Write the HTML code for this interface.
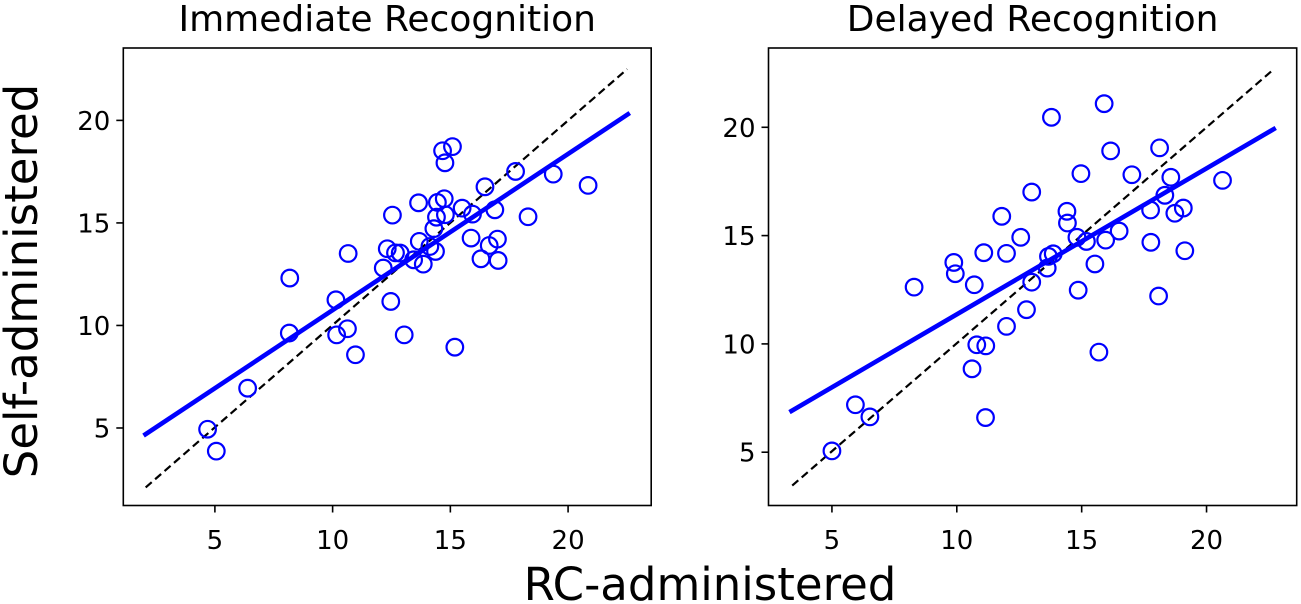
<!DOCTYPE html>
<html><head><meta charset="utf-8"><style>
html,body{margin:0;padding:0;background:#fff;}
svg{display:block;font-family:"DejaVu Sans","Liberation Sans",sans-serif;}
</style></head><body>
<svg id="fig" width="1301" height="604" viewBox="0 0 1301 604" xmlns="http://www.w3.org/2000/svg">
<text x="710" y="600" font-size="45" text-anchor="middle">RC-administered</text>
<text transform="translate(37,281) rotate(-90)" font-size="45" text-anchor="middle">Self-administered</text>
</svg>
<script>
const immX=[4.69,5.06,6.39,8.18,8.16,10.14,10.17,10.66,10.63,10.97,12.54,12.32,12.15,12.47,12.67,12.87,13.04,13.44,13.65,13.68,13.85,14.13,14.37,14.30,14.41,14.45,14.74,14.67,14.77,15.09,14.79,15.19,15.50,15.94,15.88,16.30,16.47,16.65,17.0,16.89,17.03,17.77,18.30,19.37,20.85];
const immY=[4.94,3.87,6.94,12.31,9.63,11.25,9.54,13.51,9.84,8.57,15.38,13.74,12.80,11.17,13.54,13.53,9.54,13.20,15.98,14.10,12.99,13.85,13.61,14.72,15.28,16.0,16.18,18.52,17.93,18.72,15.40,8.94,15.72,15.43,14.26,13.25,16.76,13.90,14.21,15.64,13.17,17.51,15.30,17.38,16.83];
const immFitX=[1.97,22.62];
const immFitY=[4.63,20.36];
const immRefX=[2.06,22.51];
const immRefY=[2.1,22.5];
const delX=[5.0,5.94,6.52,8.29,9.88,9.94,10.70,10.61,10.80,11.16,11.15,11.08,11.80,11.99,11.99,12.56,12.79,13.0,13.0,13.62,13.67,13.86,13.79,14.41,14.43,14.81,14.86,14.97,15.19,15.53,15.69,15.90,15.96,16.16,16.50,17.01,17.76,17.77,18.08,18.12,18.33,18.57,18.73,19.07,19.13,20.64];
const delY=[5.06,7.19,6.63,12.62,13.76,13.24,12.73,8.85,9.96,9.91,6.60,14.21,15.89,14.18,10.81,14.92,11.58,17.01,12.85,13.50,14.04,14.16,20.46,16.12,15.58,14.92,12.48,17.86,14.73,13.69,9.62,21.09,14.79,18.91,15.21,17.81,16.18,14.69,12.21,19.05,16.86,17.69,16.03,16.27,14.30,17.55];
const delFitX=[3.30,22.77];
const delFitY=[6.85,19.97];
const delRefX=[3.41,22.68];
const delRefY=[3.46,22.67];
const xTicks=[5,10,15,20];
const yTicks=[5,10,15,20];

const NS="http://www.w3.org/2000/svg";
const svg=document.getElementById('fig');
function mk(tag,attrs,parent){const e=document.createElementNS(NS,tag);for(const k in attrs)e.setAttribute(k,attrs[k]);(parent||svg).appendChild(e);return e;}

function panel(key,title,box,xd,yd,xs,ys,fx,fy,rx,ry){
  const g=mk('g',{});
  
  
  const X=v=>box.x0+(v-xd[0])/(xd[1]-xd[0])*(box.x1-box.x0);
  const Y=v=>box.y1-(v-yd[0])/(yd[1]-yd[0])*(box.y1-box.y0);
  const t=mk('text',{x:(box.x0+box.x1)/2,y:31,'font-size':36,'text-anchor':'middle'},g);
  t.textContent=title;
  
  
  // identity line
  const rl=mk('line',{x1:X(rx[0]),y1:Y(ry[0]),x2:X(rx[1]),y2:Y(ry[1]),stroke:'#000','stroke-width':2.2,'stroke-dasharray':'8 4.5'},g);
  
  
  // fit line
  const fl=mk('line',{x1:X(fx[0]),y1:Y(fy[0]),x2:X(fx[1]),y2:Y(fy[1]),stroke:'#0000ff','stroke-width':4.6},g);
  
  
  for(let i=0;i<xs.length;i++){
    const c=mk('circle',{cx:X(xs[i]),cy:Y(ys[i]),r:8.3,fill:'none',stroke:'#0000ff','stroke-width':2.2},g);
    
    
  }
  const fr=mk('rect',{x:box.x0,y:box.y0,width:box.x1-box.x0,height:box.y1-box.y0,fill:'none',stroke:'#000','stroke-width':1.6},g);
  
  
  xTicks.forEach(v=>{
    const x=X(v);
    mk('line',{x1:x,y1:box.y1,x2:x,y2:box.y1+7,stroke:'#000','stroke-width':1.6},g);
    const tl=mk('text',{x:x,y:549,'font-size':26,'text-anchor':'middle'},g);
    tl.textContent=v;
    
    
  });
  yTicks.forEach(v=>{
    const y=Y(v);
    mk('line',{x1:box.x0-7,y1:y,x2:box.x0,y2:y,stroke:'#000','stroke-width':1.6},g);
    const tl=mk('text',{x:box.x0-13,y:y+9.5,'font-size':26,'text-anchor':'end'},g);
    tl.textContent=v;
    
    
  });
}
panel('immediate','Immediate Recognition',{x0:123.3,x1:651.2,y0:48,y1:505.5},[1.11,23.53],[1.22,23.53],immX,immY,immFitX,immFitY,immRefX,immRefY);
panel('delayed','Delayed Recognition',{x0:768.5,x1:1296.7,y0:48,y1:505.5},[2.46,23.61],[2.54,23.66],delX,delY,delFitX,delFitY,delRefX,delRefY);
</script>
</body></html>
